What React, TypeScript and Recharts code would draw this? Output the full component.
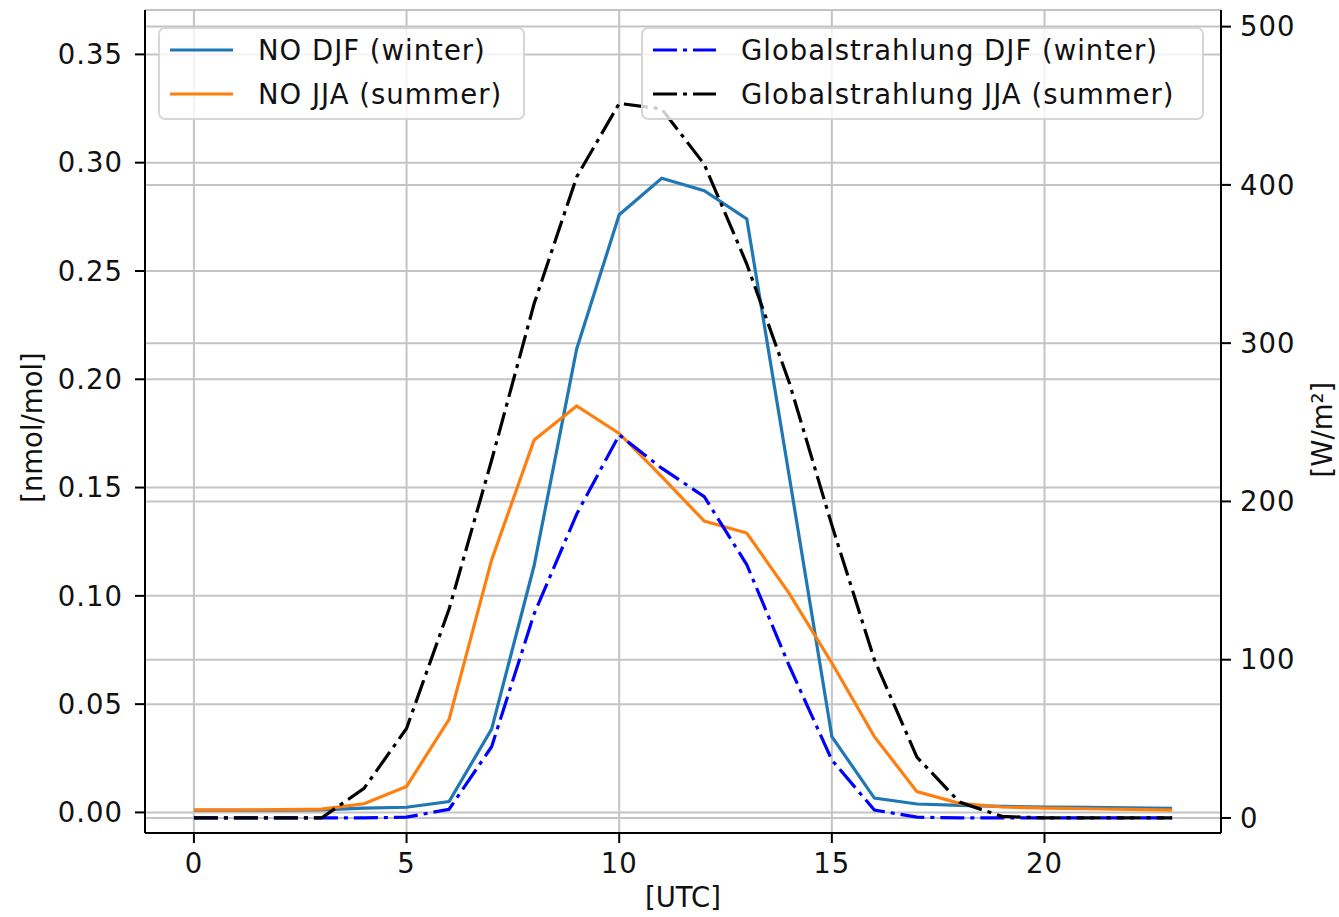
import { LineChart, Line, XAxis, YAxis, CartesianGrid, Legend, Label } from 'recharts';

// hours of the day
const hours = [0, 1, 2, 3, 4, 5, 6, 7, 8, 9, 10, 11, 12, 13, 14, 15, 16, 17, 18, 19, 20, 21, 22, 23];

// NO mixing ratio [nmol/mol]
const noWinter = [0.001, 0.001, 0.001, 0.0012, 0.002, 0.0024, 0.005, 0.0385, 0.114, 0.214, 0.276, 0.2928,
  0.2871, 0.274, 0.155, 0.035, 0.0066, 0.0039, 0.0033, 0.0028, 0.0025, 0.0023, 0.0021, 0.0019];
const noSummer = [0.0012, 0.0012, 0.0013, 0.0015, 0.004, 0.012, 0.043, 0.1166, 0.172, 0.1877, 0.175, 0.155,
  0.1345, 0.129, 0.101, 0.069, 0.035, 0.0096, 0.0042, 0.0025, 0.002, 0.0017, 0.0014, 0.0011];

// global radiation [W/m2]
const radWinter = [0, 0, 0, 0, 0, 0.5, 5.5, 45, 129, 192, 242, 221, 203, 160, 96, 36.6, 5, 0.5, 0, 0, 0, 0, 0, 0];
const radSummer = [0, 0, 0, 0, 18.7, 56.6, 132, 226, 325, 405, 451.5, 448, 413, 350, 275, 185, 100, 38.5, 10, 1, 0, 0, 0, 0];

const xTicks = [0, 5, 10, 15, 20];
const leftTicks = [0, 0.05, 0.1, 0.15, 0.2, 0.25, 0.3, 0.35];
const rightTicks = [0, 100, 200, 300, 400, 500];

const DASHDOT = '24 6 4 6';

const data = hours.map((h, i) => ({
  hour: h,
  noWinter: noWinter[i],
  noSummer: noSummer[i],
  radWinter: radWinter[i],
  radSummer: radSummer[i],
}));

const leftLegend = [
  { name: 'NO DJF (winter)', color: '#1f77b4', dash: undefined },
  { name: 'NO JJA (summer)', color: '#ff7f0e', dash: undefined },
];
const rightLegend = [
  { name: 'Globalstrahlung DJF (winter)', color: '#0000ff', dash: DASHDOT },
  { name: 'Globalstrahlung JJA (summer)', color: '#000000', dash: DASHDOT },
];

const font = '"DejaVu Sans", sans-serif';
const tickStyle = { fontSize: 27.5, fill: '#111', fontFamily: font, letterSpacing: 1 };
const labelStyle = { fontSize: 27.5, fill: '#111', fontFamily: font };

function LegendBox({ items, left, width }: { items: any[]; left: number; width: number }) {
  return (
    <div style={{
      position: 'absolute', left, top: 27, width, height: 93, boxSizing: 'border-box',
      background: 'rgba(255,255,255,0.8)', border: '2px solid rgba(204,204,204,0.8)', borderRadius: 7,
    }}>
      {items.map((it, i) => (
        <div key={i} style={{ position: 'absolute', left: 10, top: 6 + i * 44, height: 30, display: 'flex', alignItems: 'center' }}>
          <svg width={63} height={10} style={{ display: 'block' }}>
            <line x1={0} y1={5} x2={63} y2={5} stroke={it.color} strokeWidth={3.2} strokeDasharray={it.dash} />
          </svg>
          <span style={{ marginLeft: 25, fontFamily: font, fontSize: 27.5, letterSpacing: 1, color: '#111', whiteSpace: 'nowrap' }}>
            {it.name}
          </span>
        </div>
      ))}
    </div>
  );
}

function Legends() {
  return (
    <div style={{ position: 'relative', height: 0 }}>
      <LegendBox items={leftLegend} left={158} width={367} />
      <LegendBox items={rightLegend} left={641} width={563} />
    </div>
  );
}

export default function App() {
  return (
    <div style={{ width: 1339, height: 917, background: '#fff' }}>
      <style>{`body{margin:0}`}</style>
      <LineChart width={1339} height={917} data={data} margin={{ top: 10, right: 0, bottom: 0, left: 0 }}>
        <CartesianGrid xAxisId="x" yAxisId="left" stroke="#c4c4c4" strokeWidth={2} />
        <CartesianGrid xAxisId="x" yAxisId="right" stroke="#c4c4c4" strokeWidth={2} vertical={false} />
        <XAxis xAxisId="x" dataKey="hour" type="number" domain={[-1.15, 24.15]} ticks={xTicks} allowDataOverflow
          height={84} tickSize={10} tickMargin={10} tick={tickStyle} stroke="#000" strokeWidth={2}>
          <Label value="[UTC]" position="center" dy={22} style={labelStyle} />
        </XAxis>
        <XAxis xAxisId="top" orientation="top" dataKey="hour" type="number" domain={[-1.15, 24.15]} height={0}
          tick={false} tickLine={false} stroke="#000" strokeWidth={2} />
        <YAxis yAxisId="left" type="number" domain={[-0.0095, 0.3705]} ticks={leftTicks} allowDataOverflow width={145}
          tickFormatter={(v: number) => v.toFixed(2)} tickSize={10} tickMargin={12} tick={tickStyle} stroke="#000" strokeWidth={2}>
          <Label value="[nmol/mol]" angle={-90} position="center" dx={-40} dy={6} style={labelStyle} />
        </YAxis>
        <YAxis yAxisId="right" orientation="right" type="number" domain={[-9.5, 510.5]} ticks={rightTicks} allowDataOverflow
          width={118} tickSize={10} tickMargin={9} tick={{ ...tickStyle, textAnchor: 'start' }} stroke="#000" strokeWidth={2}>
          <Label value="[W/m²]" angle={-90} position="center" dx={42} dy={8} style={labelStyle} />
        </YAxis>
        <Line xAxisId="x" yAxisId="left" dataKey="noWinter" name="NO DJF (winter)" stroke="#1f77b4" strokeWidth={3.2}
          dot={false} isAnimationActive={false} />
        <Line xAxisId="x" yAxisId="left" dataKey="noSummer" name="NO JJA (summer)" stroke="#ff7f0e" strokeWidth={3.2}
          dot={false} isAnimationActive={false} />
        <Line xAxisId="x" yAxisId="right" dataKey="radWinter" name="Globalstrahlung DJF (winter)" stroke="#0000ff"
          strokeWidth={3.2} strokeDasharray={DASHDOT} dot={false} isAnimationActive={false} />
        <Line xAxisId="x" yAxisId="right" dataKey="radSummer" name="Globalstrahlung JJA (summer)" stroke="#000"
          strokeWidth={3.2} strokeDasharray={DASHDOT} dot={false} isAnimationActive={false} />
        <Legend verticalAlign="top" align="left" wrapperStyle={{ top: 0, left: 0 }} content={() => <Legends />} />
      </LineChart>
    </div>
  );
}
